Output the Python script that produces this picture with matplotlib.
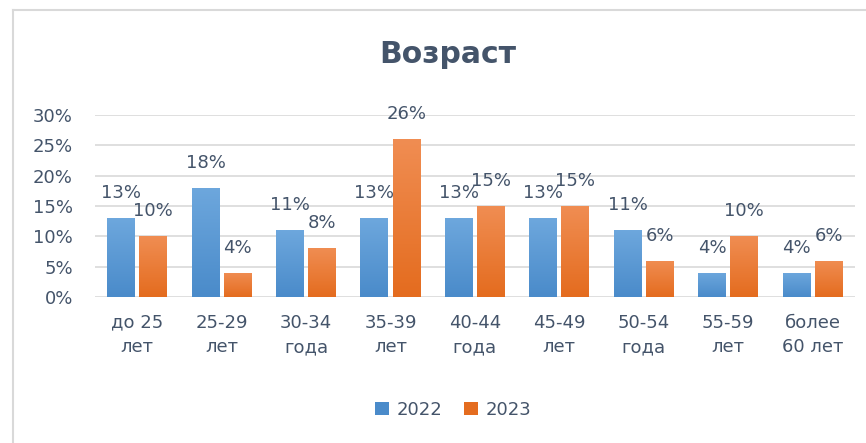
import numpy as np
import matplotlib.pyplot as plt
from matplotlib.lines import Line2D
from matplotlib.colors import LinearSegmentedColormap

# Age distribution, 2022 vs 2023
categories = ['до 25\nлет', '25-29\nлет', '30-34\nгода', '35-39\nлет', '40-44\nгода',
              '45-49\nлет', '50-54\nгода', '55-59\nлет', 'более\n60 лет']
v2022 = [13, 18, 11, 13, 13, 13, 11, 4, 4]
v2023 = [10, 4, 8, 26, 15, 15, 6, 10, 6]
series_names = ['2022', '2023']
yticks = [0, 5, 10, 15, 20, 25, 30]

text_col = '#44546A'
plt.rcParams['font.family'] = ['DejaVu Sans']

fig = plt.figure(figsize=(8.66, 4.43), dpi=100)
ax = fig.add_axes([0.1097, 0.3296, 0.8773, 0.4108])

x = np.arange(len(categories))
w = 0.33
off = 0.19
grads = [('#6DA7DD', '#4A8BCA'), ('#F08D52', '#E46C1F')]

for i, (vals, name) in enumerate(zip([v2022, v2023], series_names)):
    pos = x - off if i == 0 else x + off
    bars = ax.bar(pos, vals, width=w, color=grads[i][1], label=name, zorder=2)
    cmap = LinearSegmentedColormap.from_list('g%d' % i, [grads[i][1], grads[i][0]])
    for b in bars:
        x0, y0 = b.get_x(), b.get_y()
        im = ax.imshow(np.linspace(0, 1, 64).reshape(-1, 1), cmap=cmap, origin='lower',
                       extent=[x0, x0 + b.get_width(), y0, y0 + b.get_height()],
                       aspect='auto', zorder=2.5)
        im.set_clip_path(b)
    for p, v in zip(pos, vals):
        ax.annotate(f'{v}%', (p, v), xytext=(0, 18), textcoords='offset points',
                    ha='center', va='center', fontsize=13, color=text_col)

ax.set_xlim(-0.5, len(categories) - 0.5)
ax.set_ylim(0, 30)
ax.set_yticks(yticks)
ax.set_yticklabels([f'{t}%' for t in yticks])
ax.set_xticks(x)
ax.set_xticklabels(categories, linespacing=1.45)
ax.tick_params(axis='both', length=0, labelsize=13, colors=text_col)
ax.tick_params(axis='x', pad=12)
ax.tick_params(axis='y', pad=16)
ax.grid(axis='y', color='#D9D9D9', linewidth=1.2, zorder=0)
for s in ax.spines.values():
    s.set_visible(False)

fig.text(0.517, 0.876, 'Возраст', ha='center', va='center', fontsize=21.5,
         fontweight='bold', color=text_col)

fig.legend(loc='center', bbox_to_anchor=(0.523, 0.075), ncol=2, frameon=False,
           fontsize=13, labelcolor=text_col, handlelength=0.8, handleheight=0.8,
           handletextpad=0.4, columnspacing=1.2)

# chart area border (left and top edges visible)
fig.add_artist(Line2D([13 / 866, 13 / 866], [0, 1 - 10 / 443], color='#D9D9D9', lw=1.5))
fig.add_artist(Line2D([13 / 866, 1], [1 - 10 / 443, 1 - 10 / 443], color='#D9D9D9', lw=1.5))

fig.savefig('out.png', dpi=100)
